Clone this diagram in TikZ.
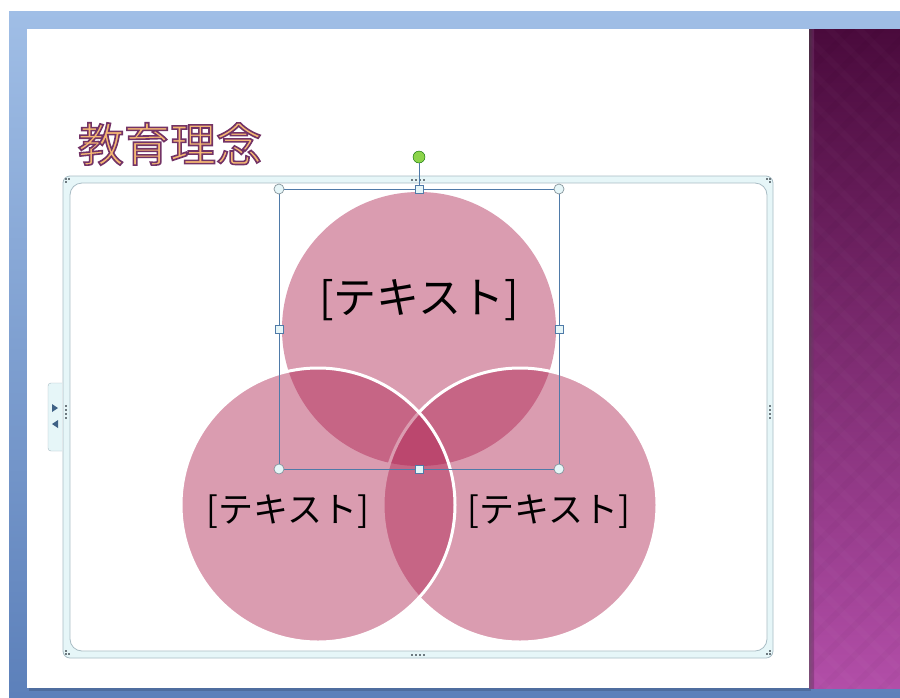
\documentclass[tikz,border=0pt]{standalone}
\usepackage{fontspec}
\newfontfamily\jp{Noto Sans CJK JP}
\newfontfamily\jpbold[FakeBold=3.5]{Noto Sans CJK JP}
\definecolor{bluetop}{HTML}{A0BEE6}
\definecolor{bluebot}{HTML}{5C80BA}
\definecolor{purptop}{HTML}{4A0A3C}
\definecolor{purpmid}{HTML}{7A2A70}
\definecolor{purpbot}{HTML}{B24EA8}
\definecolor{venn}{HTML}{AF2452}
\definecolor{selblue}{HTML}{4F7AA8}
\definecolor{framefill}{HTML}{E6F6F8}
\definecolor{frameline}{HTML}{A8BCC4}
\definecolor{knob}{HTML}{8CD44A}
\definecolor{dotgray}{HTML}{6E7A80}
\newcommand{\outlinedtitle}[1]{\special{color push rgb 0.96 0.72 0.45}\special{pdf:code 0.45 0.20 0.40 RG}#1\special{color pop}}
\tikzset{
  vennc/.style={fill=venn, fill opacity=0.45},
  vennw/.style={fill=venn, fill opacity=0.45, draw=white, draw opacity=1, line width=3pt},
  vtext/.style={text=black, inner sep=0pt},
  cornerh/.style={circle, draw=frameline!80!black, fill=framefill, line width=0.7pt, minimum size=10pt, inner sep=0pt},
  sideh/.style={rectangle, draw=selblue, fill=framefill, line width=0.7pt, minimum size=8pt, inner sep=0pt},
  rotknob/.style={circle, draw=green!40!black, fill=knob, minimum size=12pt, inner sep=0pt},
  fdot/.style={fill=dotgray},
}
\begin{document}
\begin{tikzpicture}[x=1pt,y=-1pt]
\useasboundingbox (0,0) rectangle (900,697);
\fill[white] (0,0) rectangle (900,697);
% blue workspace
\shade[top color=bluetop, bottom color=bluebot] (9,11) rectangle (900,697);
% slide shadow
\fill[black, opacity=0.15] (29,31) rectangle (811,691);
% slide
\fill[white] (27,29) rectangle (809,688);
% purple background panel
\shade[top color=purptop, middle color=purpmid, bottom color=purpbot] (809,29) rectangle (900,688);
\begin{scope}
\clip (809,29) rectangle (900,688);
\foreach \i in {-40,-10,...,760} {
  \draw[white, opacity=0.02, line width=6pt] (790,\i) -- (920,\i+130);
  \draw[black, opacity=0.02, line width=6pt] (790,\i+130) -- (920,\i);
}
\end{scope}
\shade[left color=black!70, right color=purpmid, opacity=0.5] (809,29) rectangle (814,688);

% title with outline
\node[inner sep=0pt, font=\jpbold\fontsize{46}{46}\selectfont] (title) at (170,144) {\outlinedtitle{教育理念}};

% SmartArt frame
\draw[draw=frameline, fill=framefill, rounded corners=7pt, line width=0.8pt] (63,176) rectangle (773,658);
\draw[draw=frameline, fill=white, rounded corners=12pt, line width=0.8pt] (70,183) rectangle (767,651);
% frame dots
\foreach \x in {411,415,419,423} { \fill[fdot] (\x,178.5) rectangle ++(2,2); \fill[fdot] (\x,653.5) rectangle ++(2,2); }
\foreach \y in {405,409,413,417} { \fill[fdot] (769,\y) rectangle ++(2,2); \fill[fdot] (65,\y) rectangle ++(2,2); }
\foreach \x/\y in {65/178,68/178,65/181, 766/178,769/181,769/178, 65/653,68/653,65/650, 766/653,769/653,769/650} { \fill[fdot] (\x,\y) rectangle ++(2,2); }

% left tab
\draw[draw=frameline, fill=framefill, rounded corners=3pt] (62,383) -- (48,383) -- (48,451) -- (62,451);
\fill[selblue!80!black] (52,404) -- (58,408) -- (52,412) -- cycle;
\fill[selblue!80!black] (58,420) -- (52,424) -- (58,428) -- cycle;

% Venn circles
\fill[vennc] (419,329) circle (137);
\filldraw[vennw] (520,505) circle (137);
\filldraw[vennw] (318,505) circle (137);
\node[vtext, font=\jp\fontsize{43}{43}\selectfont] (t1) at (419,300) {[テキスト]};
\node[vtext, font=\jp\fontsize{35}{35}\selectfont] (t2) at (288,512) {[テキスト]};
\node[vtext, font=\jp\fontsize{35}{35}\selectfont] (t3) at (549,512) {[テキスト]};

% selection box
\draw[selblue, line width=0.9pt] (279,189) rectangle (559,469);
\coordinate (rtop) at (419,189);
\node[rotknob] (rot) at (419,157) {};
\draw[selblue, line width=0.9pt] (rot) -- (rtop);
\foreach \x/\y/\n in {279/189/a,559/189/b,279/469/c,559/469/d} { \node[cornerh] (\n) at (\x,\y) {}; }
\foreach \x/\y/\n in {419/189/e,279/329/f,559/329/g,419/469/h} { \node[sideh] (\n) at (\x,\y) {}; }
\end{tikzpicture}
\end{document}
